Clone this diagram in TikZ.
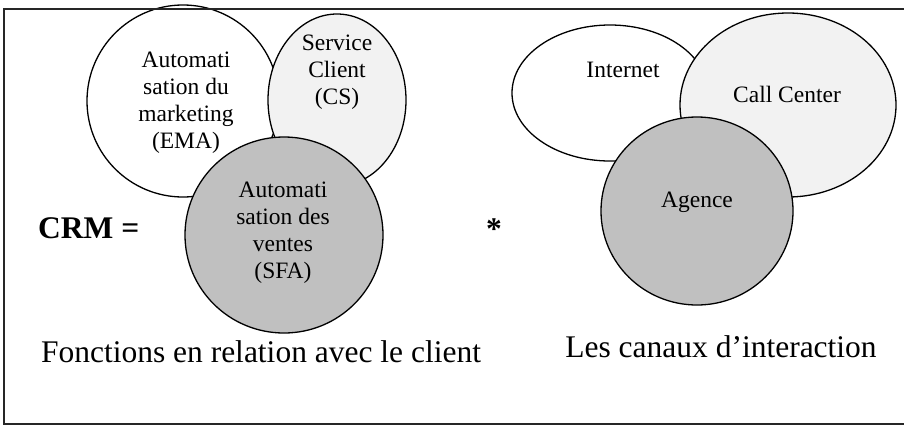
\documentclass[tikz,border=0pt]{standalone}
\usepackage{fontspec}
\setmainfont{Liberation Serif}
\usetikzlibrary{shapes.geometric}
\definecolor{lightfill}{HTML}{F2F2F2}
\definecolor{darkfill}{HTML}{C0C0C0}
\begin{document}
\begin{tikzpicture}[x=1pt,y=-1pt,
  blob/.style={ellipse, draw=black, line width=1.3pt, inner sep=0pt},
  txt/.style={font=\fontsize{23.5}{27}\selectfont, align=center, inner sep=0pt},
  big/.style={font=\fontsize{31.5}{36}\selectfont, inner sep=0pt}]
\useasboundingbox (0,0) rectangle (904,426);
% left group
\node[blob, fill=white, minimum width=192pt, minimum height=192pt] (ema) at (183,101) {};
\node[blob, fill=lightfill, minimum width=138pt, minimum height=172pt] (cs) at (337,100) {};
\node[blob, fill=darkfill, minimum width=198pt, minimum height=196pt] (sfa) at (284,235) {};
% right group
\node[blob, fill=white, minimum width=196pt, minimum height=136pt] (inet) at (610,93) {};
\node[blob, fill=lightfill, minimum width=216pt, minimum height=184pt] (cc) at (788,105) {};
\node[blob, fill=darkfill, minimum width=192pt, minimum height=188pt] (ag) at (697,211) {};
% frame
\draw[line width=1.5pt, black!85] (4,9) rectangle (912,424);
% texts
\node[txt] (emat) at (186,103) {\strut Automati\\\strut sation du\\\strut marketing\\\strut (EMA)};
\node[txt] (cst) at (337,71.6) {\strut Service\\\strut Client\\\strut (CS)};
\node[txt] (sfat) at (283,233) {\strut Automati\\\strut sation des\\\strut ventes\\\strut (SFA)};
\node[txt, anchor=base] (inett) at (623,77) {Internet};
\node[txt, anchor=base] (cct) at (787,102) {Call Center};
\node[txt, anchor=base] (agt) at (697,207) {Agence};
\node[big, anchor=base west] (crm) at (38,238) {\textbf{CRM =}};
\node[big, anchor=base] (star) at (494,239) {\textbf{*}};
\node[big, anchor=base] (fct) at (261,362) {Fonctions en relation avec le client};
\node[big, anchor=base] (can) at (721,357) {Les canaux d’interaction};
\end{tikzpicture}
\end{document}
